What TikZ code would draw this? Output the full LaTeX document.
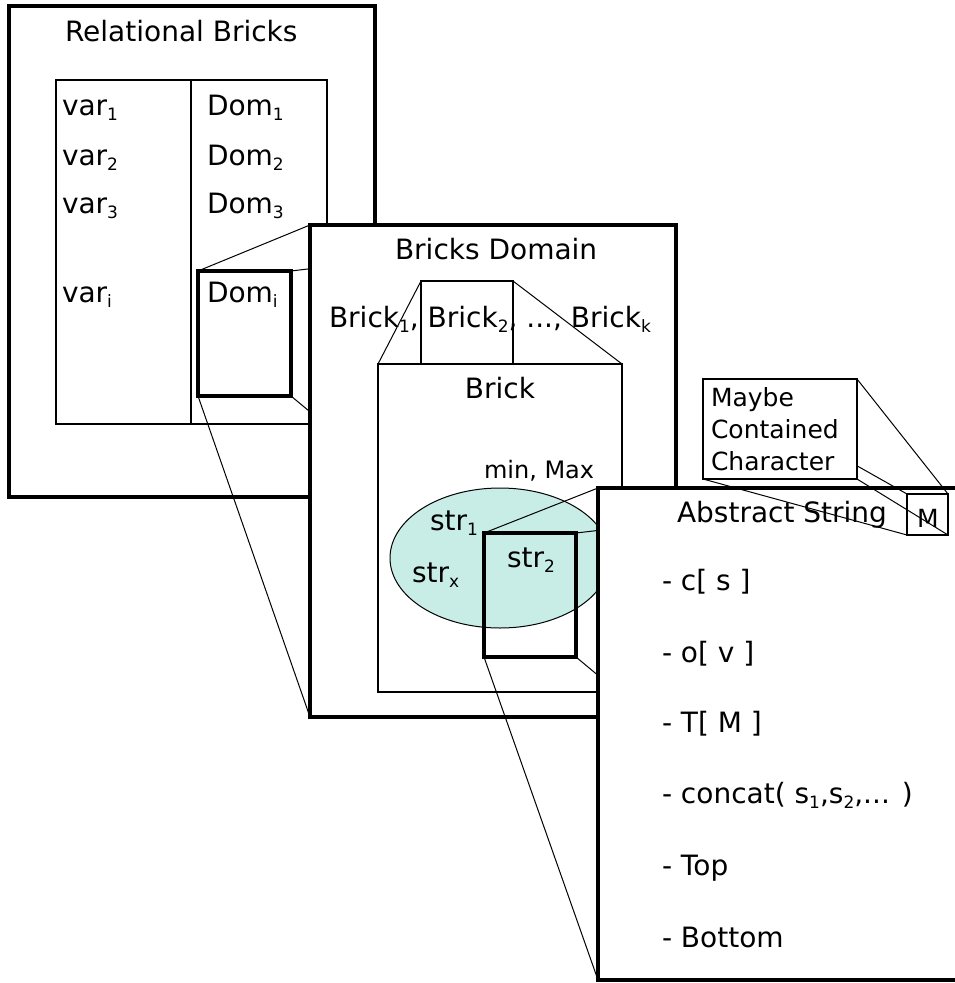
\documentclass[tikz,border=0pt]{standalone}
\usepackage{fontspec}
\setmainfont{DejaVu Sans}
\usetikzlibrary{shapes.geometric}
\definecolor{ellfill}{RGB}{200,237,230}
\newcommand\sbs[1]{\raisebox{-5pt}{\fontsize{17}{17}\selectfont #1}}
\tikzset{
  boxnode/.style={draw, rectangle, inner sep=0pt, outer sep=0pt, anchor=north west},
  bigbox/.style={boxnode, line width=3.5pt, fill=white},
  conn/.style={draw, line width=1pt},
  txt/.style={inner sep=0pt, outer sep=0pt, anchor=base west, font=\fontsize{28}{34}\selectfont},
  small/.style={inner sep=0pt, outer sep=0pt, anchor=base west, font=\fontsize{25}{30}\selectfont},
}
\begin{document}
\begin{tikzpicture}[x=1pt, y=-1pt]
\useasboundingbox (0,0) rectangle (954,983);
\fill[white] (0,0) rectangle (954,983);
% Box 1: Relational Bricks
\node[bigbox, minimum width=366pt, minimum height=491pt] (rb) at (9,6) {};
\node[txt] (rbt) at (65,41) {Relational Bricks};
\node[boxnode, line width=2pt, minimum width=271pt, minimum height=344pt] (tab) at (56,80) {};
\draw[line width=2pt] (191,80) -- (191,424);
\node[txt] (v1) at (62,115) {var\sbs{1}};
\node[txt] (v2) at (62,165) {var\sbs{2}};
\node[txt] (v3) at (62,213) {var\sbs{3}};
\node[txt] (vi) at (62,302) {var\sbs{i}};
\node[txt] (d1) at (207,115) {Dom\sbs{1}};
\node[txt] (d2) at (207,165) {Dom\sbs{2}};
\node[txt] (d3) at (207,213) {Dom\sbs{3}};
\node[txt] (di) at (207,302) {Dom\sbs{i}};
\node[boxnode, line width=3.2pt, minimum width=93pt, minimum height=125pt] (domi) at (198,271) {};
% Box 2 (placed invisibly first for connector anchors)
\path node[boxnode, draw=none, minimum width=366pt, minimum height=492pt] (bd) at (310,225) {};
\draw[conn] (domi.north west) -- (bd.north west);
\draw[conn] (domi.north east) -- (bd.north east);
\draw[conn] (domi.south east) -- (bd.south east);
\draw[conn] (domi.south west) -- (bd.south west);
\node[bigbox, minimum width=366pt, minimum height=492pt] (bd2) at (310,225) {};
\node[txt] (bdt) at (395,259) {Bricks Domain};
\node[txt] (bl) at (329,327) {Brick\sbs{1}, Brick\sbs{2}, ..., Brick\sbs{k}};
\node[boxnode, line width=2.5pt, minimum width=92pt, minimum height=83pt] (b2) at (421,281) {};
\node[boxnode, line width=2.5pt, minimum width=244pt, minimum height=328pt] (brick) at (378,364) {};
\draw[conn] (b2.north west) -- (brick.north west);
\draw[conn] (b2.north east) -- (brick.north east);
\node[txt, anchor=base] (bt) at (500,398) {Brick};
\node[inner sep=0pt, outer sep=0pt, anchor=base west, font=\fontsize{24}{28}\selectfont] (mm) at (484,478) {min, Max};
\node[ellipse, draw, line width=1pt, fill=ellfill, minimum width=220pt, minimum height=140pt, inner sep=0pt] (ell) at (500,558) {};
\node[txt] (s1) at (430,530) {str\sbs{1}};
\node[txt] (sx) at (412,582) {str\sbs{x}};
\node[txt] (s2t) at (507,567) {str\sbs{2}};
\node[boxnode, line width=3.2pt, minimum width=92pt, minimum height=124pt] (s2) at (484,533) {};
% Box 3
\path node[boxnode, draw=none, minimum width=366pt, minimum height=492pt] (as) at (598,488) {};
\draw[conn] (s2.north west) -- (as.north west);
\draw[conn] (s2.north east) -- (as.north east);
\draw[conn] (s2.south east) -- (as.south east);
\draw[conn] (s2.south west) -- (as.south west);
\node[bigbox, minimum width=366pt, minimum height=492pt] (as2) at (598,488) {};
\node[txt] (ast) at (677,522) {Abstract String};
\node[txt] (i1) at (662,590) {- c[ s ]};
\node[txt] (i2) at (662,662) {- o[ v ]};
\node[txt] (i3) at (662,732) {- T[ M ]};
\node[txt] (i4) at (662,803) {- concat( s\sbs{1},s\sbs{2},... )};
\node[txt] (i5) at (662,875) {- Top};
\node[txt] (i6) at (662,947) {- Bottom};
% Maybe contained character
\path node[boxnode, draw=none, minimum width=154pt, minimum height=100pt] (mb0) at (703,379) {};
\node[boxnode, line width=2pt, minimum width=41pt, minimum height=41pt] (mbox) at (907,494) {};
\draw[conn] (mb0.north west) -- (mbox.north west);
\draw[conn] (mb0.north east) -- (mbox.north east);
\draw[conn] (mb0.south east) -- (mbox.south east);
\draw[conn] (mb0.south west) -- (mbox.south west);
\node[boxnode, line width=2pt, fill=white, minimum width=154pt, minimum height=100pt] (mb) at (703,379) {};
\node[small] (m1) at (711,406) {Maybe};
\node[small] (m2) at (711,438) {Contained};
\node[small] (m3) at (711,470) {Character};
\node[small, anchor=base] (mt) at (928,527) {M};
\end{tikzpicture}
\end{document}
